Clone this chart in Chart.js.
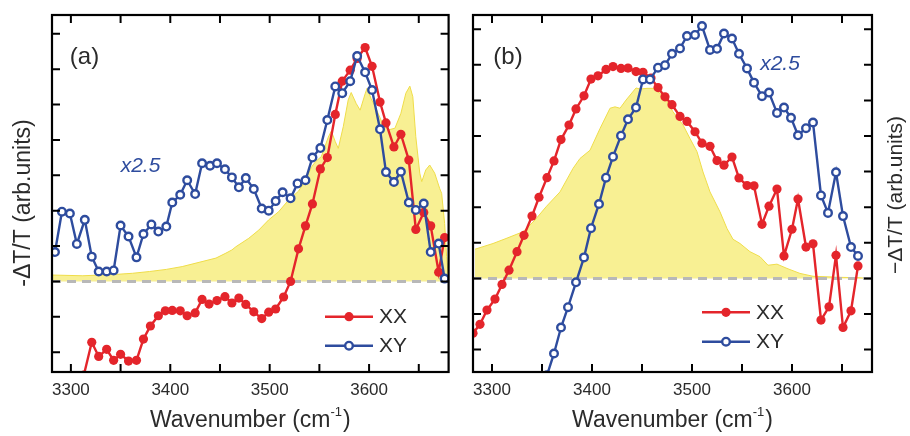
<!DOCTYPE html>
<html>
<head>
<meta charset="utf-8">
<script src="https://cdn.jsdelivr.net/npm/chart.js@4.4.1/dist/chart.umd.min.js"></script>
<style>
  html, body { margin: 0; padding: 0; background: #fff; }
  #wrap { position: relative; width: 910px; height: 436px; }
  .panel { position: absolute; top: 0; width: 455px; height: 436px; }
  #pa { left: 0; }
  #pb { left: 455px; }
</style>
</head>
<body>
<div id="wrap">
  <div class="panel" id="pa"><canvas id="chartA" width="455" height="436"></canvas></div>
  <div class="panel" id="pb"><canvas id="chartB" width="455" height="436"></canvas></div>
</div>
<script>
// ---- panel (a) ----
const xyA_x = [3284, 3291, 3299, 3306, 3314, 3321, 3328, 3336, 3343, 3350, 3358, 3366, 3373, 3381, 3388, 3396, 3402, 3410, 3417, 3425, 3432, 3440, 3447, 3455, 3462, 3469, 3476, 3484, 3492, 3499, 3506, 3513, 3521, 3528, 3536, 3543, 3551, 3558, 3566, 3573, 3581, 3588, 3596, 3603, 3611, 3617, 3625, 3632, 3640, 3647, 3655, 3662, 3670, 3676];
const xyA_y = [0.83, 1.97, 1.92, 1.06, 1.74, 0.70, 0.28, 0.28, 0.31, 1.58, 1.27, 0.68, 1.34, 1.61, 1.41, 1.55, 2.23, 2.45, 2.86, 2.47, 3.34, 3.27, 3.34, 3.17, 2.94, 2.66, 2.92, 2.61, 2.06, 2.00, 2.27, 2.52, 2.35, 2.77, 2.86, 3.50, 3.77, 4.56, 5.51, 5.32, 5.66, 6.37, 5.91, 5.41, 4.30, 3.09, 2.81, 3.10, 2.23, 2.02, 2.20, 0.83, 1.07, 0.08];

const xxA_x = [3313, 3321, 3328, 3336, 3343, 3350, 3358, 3366, 3373, 3380, 3388, 3395, 3402, 3410, 3417, 3425, 3432, 3439, 3447, 3455, 3462, 3469, 3476, 3484, 3492, 3499, 3506, 3514, 3521, 3529, 3536, 3543, 3551, 3558, 3566, 3573, 3581, 3588, 3596, 3603, 3611, 3617, 3625, 3632, 3640, 3647, 3655, 3662, 3670, 3676];
const xxA_y = [-2.65, -1.72, -2.12, -1.92, -2.23, -2.06, -2.25, -2.23, -1.63, -1.26, -0.97, -0.83, -0.82, -0.83, -0.97, -0.89, -0.51, -0.64, -0.54, -0.43, -0.61, -0.47, -0.65, -0.86, -1.05, -0.87, -0.78, -0.44, 0.00, 0.92, 1.57, 2.19, 3.18, 3.50, 4.72, 5.66, 5.97, 6.30, 6.61, 6.08, 5.07, 4.48, 3.80, 4.16, 3.43, 1.47, 1.95, 1.57, 0.26, 1.24];

const pumpA_x = [3282, 3312, 3346, 3362, 3379, 3396, 3412, 3429, 3446, 3456, 3462, 3466, 3479, 3489, 3499, 3509, 3519, 3529, 3536, 3542, 3546, 3552, 3559, 3562, 3566, 3569, 3574, 3579, 3582, 3587, 3591, 3596, 3598, 3602, 3606, 3612, 3619, 3626, 3632, 3637, 3641, 3644, 3647, 3651, 3653, 3657, 3661, 3666, 3671, 3673, 3676, 3678, 3680];
const pumpA_y = [0.18, 0.16, 0.20, 0.23, 0.28, 0.34, 0.42, 0.54, 0.66, 0.80, 0.89, 0.98, 1.22, 1.45, 1.74, 1.97, 2.30, 2.55, 2.87, 3.23, 3.38, 3.53, 4.08, 4.25, 3.95, 3.76, 4.37, 5.13, 5.34, 5.03, 4.84, 5.30, 5.46, 5.17, 4.95, 4.56, 4.28, 4.33, 4.75, 5.32, 5.52, 5.22, 4.09, 3.06, 2.82, 3.15, 3.29, 3.06, 2.63, 2.49, 1.64, 0.70, 0.04];

// ---- panel (b) ----
const xxB_x = [3281, 3288, 3295, 3303, 3310, 3317, 3325, 3332, 3340, 3347, 3355, 3362, 3369, 3377, 3384, 3392, 3399, 3406, 3414, 3421, 3429, 3436, 3444, 3451, 3459, 3466, 3473, 3480, 3488, 3495, 3503, 3510, 3518, 3525, 3532, 3540, 3547, 3555, 3562, 3570, 3577, 3585, 3592, 3600, 3606, 3614, 3621, 3629, 3637, 3644, 3651, 3659, 3666];
const xxB_y = [-1.54, -1.29, -0.89, -0.58, -0.17, 0.23, 0.75, 1.21, 1.75, 2.28, 2.83, 3.30, 3.90, 4.31, 4.76, 5.13, 5.60, 5.69, 5.87, 5.95, 5.90, 5.91, 5.81, 5.79, 5.63, 5.36, 5.10, 4.88, 4.55, 4.41, 4.12, 3.80, 3.71, 3.31, 3.18, 3.41, 2.82, 2.61, 2.60, 1.52, 2.03, 2.51, 0.63, 1.38, 2.23, 0.88, 0.97, -1.17, -0.80, 0.65, -1.38, -0.91, 0.35];

const xyB_x = [3347, 3355, 3362, 3369, 3376, 3384, 3392, 3399, 3407, 3414, 3421, 3429, 3436, 3444, 3451, 3458, 3466, 3473, 3480, 3488, 3495, 3503, 3510, 3518, 3525, 3532, 3540, 3547, 3555, 3562, 3570, 3577, 3585, 3592, 3599, 3606, 3614, 3621, 3629, 3636, 3644, 3651, 3659, 3666];
const xyB_y = [-3.40, -2.72, -2.11, -1.38, -0.81, -0.11, 0.59, 1.41, 2.09, 2.83, 3.42, 4.01, 4.47, 4.80, 5.59, 5.59, 5.92, 5.99, 6.31, 6.46, 6.81, 6.84, 7.09, 6.42, 6.45, 6.88, 6.74, 6.31, 5.90, 5.50, 5.12, 5.22, 4.65, 4.80, 4.51, 4.02, 4.22, 4.38, 2.33, 1.84, 2.98, 1.75, 0.88, 0.63];

const pumpB_x = [3283, 3301, 3314, 3331, 3343, 3354, 3368, 3381, 3388, 3398, 3408, 3418, 3423, 3428, 3434, 3444, 3448, 3455, 3461, 3468, 3475, 3481, 3491, 3498, 3505, 3511, 3518, 3528, 3535, 3541, 3548, 3558, 3568, 3576, 3585, 3595, 3608, 3621, 3648, 3665, 3680];
const pumpB_y = [0.82, 0.98, 1.12, 1.31, 1.64, 2.01, 2.43, 3.09, 3.37, 3.60, 4.21, 4.78, 4.82, 4.78, 5.01, 5.35, 5.32, 5.34, 5.34, 5.20, 4.96, 4.68, 4.31, 3.93, 3.56, 2.99, 2.43, 1.87, 1.40, 1.10, 0.98, 0.75, 0.61, 0.37, 0.40, 0.28, 0.14, 0.06, 0.03, 0.02, 0.00];

// zero reference line, ticks and axis ranges
const zero_x = [3281, 3680];
const zero_y = [0, 0];
const xTicks = [3300, 3350, 3400, 3450, 3500, 3550, 3600, 3650];
const xTickLabels = ['3300', '', '3400', '', '3500', '', '3600', ''];
const yTicks = [-2, -1, 0, 1, 2, 3, 4, 5, 6, 7];
const xRange = [3281, 3680];
const yRangeA = [-2.56, 7.53];
const yRangeB = [-2.63, 7.40];

const FONT = '"Liberation Sans", Arial, sans-serif';
const RED = '#e4252b';
const BLUE = '#2e4c9e';
const INK = '#2b2b2b';

function pts(xs, ys) {
  return xs.map((x, i) => ({ x: x, y: ys[i] }));
}

// frame, inward ticks, titles, legend
function decor(o) {
  return {
    id: 'decor',
    afterDraw(chart) {
      const ctx = chart.ctx;
      const a = chart.chartArea;
      const sx = chart.scales.x, sy = chart.scales.y;
      ctx.save();
      ctx.strokeStyle = '#000';
      ctx.lineWidth = 2;
      ctx.beginPath();
      sx.ticks.forEach(t => {
        const p = sx.getPixelForValue(t.value);
        ctx.moveTo(p, a.bottom); ctx.lineTo(p, a.bottom - 8);
        ctx.moveTo(p, a.top); ctx.lineTo(p, a.top + 8);
      });
      sy.ticks.forEach(t => {
        const p = sy.getPixelForValue(t.value);
        ctx.moveTo(a.left, p); ctx.lineTo(a.left + 8, p);
        ctx.moveTo(a.right, p); ctx.lineTo(a.right - 8, p);
      });
      ctx.stroke();
      ctx.lineWidth = 2.2;
      ctx.strokeRect(a.left, a.top, a.right - a.left, a.bottom - a.top);

      // panel letter
      ctx.fillStyle = INK;
      ctx.textAlign = 'center';
      ctx.textBaseline = 'middle';
      ctx.font = '24px ' + FONT;
      ctx.fillText(o.letter, o.letterPos[0], o.letterPos[1]);

      // scale factor note
      ctx.fillStyle = BLUE;
      ctx.font = 'italic 21px ' + FONT;
      ctx.fillText('x2.5', o.notePos[0], o.notePos[1]);

      // x title with superscript
      ctx.fillStyle = INK;
      ctx.textBaseline = 'alphabetic';
      ctx.textAlign = 'left';
      const main = 'Wavenumber (cm';
      ctx.font = '23px ' + FONT;
      const w1 = ctx.measureText(main).width;
      const w3 = ctx.measureText(')').width;
      ctx.font = '13px ' + FONT;
      const w2 = ctx.measureText('-1').width;
      const cx = (a.left + a.right) / 2;
      const x0 = cx - (w1 + w2 + w3 + 1) / 2;
      const base = a.bottom + 55;
      ctx.font = '23px ' + FONT;
      ctx.fillText(main, x0, base);
      ctx.font = '13px ' + FONT;
      ctx.fillText('-1', x0 + w1, base - 11);
      ctx.font = '23px ' + FONT;
      ctx.fillText(')', x0 + w1 + w2 + 1, base);

      // y title (reads bottom to top)
      ctx.save();
      ctx.translate(o.yTitlePos[0], o.yTitlePos[1]);
      ctx.rotate(-Math.PI / 2);
      ctx.textAlign = 'center';
      ctx.textBaseline = 'middle';
      ctx.font = o.yTitleSize + 'px ' + FONT;
      ctx.fillText(o.yTitle, 0, 0);
      ctx.restore();

      // legend built from the datasets
      o.legend.forEach((item, k) => {
        const ds = chart.data.datasets[item];
        const y = o.legendPos[1] + k * o.legendGap;
        const lx0 = o.legendPos[0], lx1 = lx0 + 48, mx = lx0 + 24;
        ctx.strokeStyle = ds.borderColor;
        ctx.lineWidth = 2.5;
        ctx.beginPath(); ctx.moveTo(lx0, y); ctx.lineTo(lx1, y); ctx.stroke();
        ctx.beginPath();
        ctx.arc(mx, y, ds.pointRadius, 0, Math.PI * 2);
        ctx.fillStyle = ds.pointBackgroundColor;
        ctx.fill();
        if (ds.pointBorderWidth > 0) {
          ctx.lineWidth = ds.pointBorderWidth;
          ctx.strokeStyle = ds.pointBorderColor;
          ctx.stroke();
        }
        ctx.fillStyle = INK;
        ctx.font = '21px ' + FONT;
        ctx.textAlign = 'left';
        ctx.textBaseline = 'middle';
        ctx.fillText(ds.label, lx1 + 6, y + 1);
      });
      ctx.restore();
    }
  };
}

function makeChart(id, d, o) {
  return new Chart(document.getElementById(id), {
    type: 'line',
    data: {
      datasets: [
        { label: 'pump', data: pts(d.pump_x, d.pump_y), borderColor: '#efdd4a', borderWidth: 1,
          backgroundColor: '#f8f093', fill: 'origin', pointRadius: 0, order: 4 },
        { label: 'zero', data: pts(zero_x, zero_y), borderColor: '#b8b8b8', borderWidth: 3,
          borderDash: [9, 6], pointRadius: 0, fill: false, order: 3 },
        { label: 'XX', data: pts(d.xx_x, d.xx_y), borderColor: RED, borderWidth: 2.4,
          pointRadius: 4.6, pointBackgroundColor: RED, pointBorderColor: RED, pointBorderWidth: 0,
          fill: false, order: 2, clip: 0 },
        { label: 'XY', data: pts(d.xy_x, d.xy_y), borderColor: BLUE, borderWidth: 2.4,
          pointRadius: 3.8, pointBackgroundColor: '#ffffff', pointBorderColor: BLUE, pointBorderWidth: 2.4,
          fill: false, order: 1, clip: 0 }
      ]
    },
    options: {
      responsive: false,
      animation: false,
      events: [],
      layout: { padding: { top: 15, right: o.padRight, left: 0, bottom: 0 } },
      plugins: { legend: { display: false }, tooltip: { enabled: false } },
      elements: { line: { tension: 0 } },
      scales: {
        x: {
          type: 'linear',
          min: xRange[0], max: xRange[1],
          grid: { display: false, drawTicks: false },
          border: { display: false },
          afterBuildTicks: s => { s.ticks = xTicks.map(v => ({ value: v })); },
          ticks: {
            autoSkip: false, maxRotation: 0, padding: 8.5,
            color: INK, font: { family: FONT, size: 17 },
            callback: (v, i) => xTickLabels[i]
          },
          afterFit: s => { s.height = 64; }
        },
        y: {
          type: 'linear',
          min: d.yRange[0], max: d.yRange[1],
          grid: { display: false, drawTicks: false },
          border: { display: false },
          afterBuildTicks: s => { s.ticks = yTicks.map(v => ({ value: v })); },
          ticks: { display: false },
          afterFit: s => { s.width = o.yWidth; }
        }
      }
    },
    plugins: [decor(o)]
  });
}

makeChart('chartA',
  { pump_x: pumpA_x, pump_y: pumpA_y, xx_x: xxA_x, xx_y: xxA_y, xy_x: xyA_x, xy_y: xyA_y, yRange: yRangeA },
  { padRight: 4, yWidth: 52, letter: '(a)', letterPos: [84.5, 57], notePos: [140.5, 166],
    yTitle: '-\u0394T/T (arb.units)', yTitleSize: 23, yTitlePos: [24, 203],
    legend: [2, 3], legendPos: [325, 316.7], legendGap: 29 });

makeChart('chartB',
  { pump_x: pumpB_x, pump_y: pumpB_y, xx_x: xxB_x, xx_y: xxB_y, xy_x: xyB_x, xy_y: xyB_y, yRange: yRangeB },
  { padRight: 38, yWidth: 18, letter: '(b)', letterPos: [53, 57], notePos: [325, 64],
    yTitle: '\u2212\u0394T/T (arb.units)', yTitleSize: 21, yTitlePos: [441, 195],
    legend: [2, 3], legendPos: [247, 312.3], legendGap: 29.4 });
</script>
</body>
</html>
